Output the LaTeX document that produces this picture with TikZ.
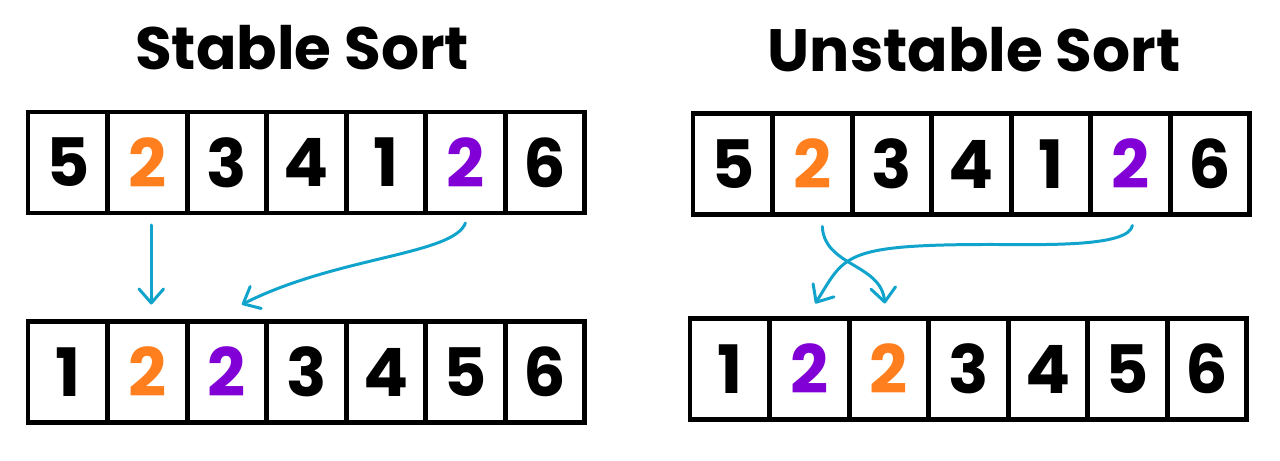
\documentclass[tikz,border=0pt]{standalone}
\usepackage{fontspec}
\setmainfont{Poppins}
\usepackage{tikz}
\usetikzlibrary{positioning,arrows.meta}
\definecolor{sortorange}{RGB}{255,127,30}
\definecolor{sortpurple}{RGB}{128,0,214}
\definecolor{arrowblue}{RGB}{16,163,204}
\tikzset{
  % Specifications for style of nodes:
  cell/.style = {
    rectangle,
    draw=black,
    line width=2.8pt,
    minimum width=1.591cm,
    minimum height=2.02cm,
    inner sep=0pt,
    outer sep=0pt,
    node distance=0cm,
    font=\fontsize{38}{40}\selectfont\bfseries,
    text centered
  },
  title/.style = {
    font=\fontsize{34}{40}\selectfont\bfseries
  },
  move/.style = {
    draw=arrowblue,
    line width=1.7pt,
    line cap=round,
    -{Straight Barb[length=8pt,width=14pt,line cap=round,round]}
  },
}
\begin{document}
\begin{tikzpicture}[x=0.02cm, y=-0.02cm]
    \useasboundingbox (0,0) rectangle (1280,460);
    % Titles
    \node[title] (stabletitle)   at (302,48) {Stable Sort};
    \node[title] (unstabletitle) at (974,50) {Unstable Sort};
    % Stable sort: input array
    \node[cell, anchor=west] (sin0) at (28,162.5)              {5};
    \node[cell, right=of sin0, text=sortorange] (sin1)         {2};
    \node[cell, right=of sin1] (sin2)                          {3};
    \node[cell, right=of sin2] (sin3)                          {4};
    \node[cell, right=of sin3] (sin4)                          {1};
    \node[cell, right=of sin4, text=sortpurple] (sin5)         {2};
    \node[cell, right=of sin5] (sin6)                          {6};
    % Stable sort: output array
    \node[cell, anchor=west] (sout0) at (28,372)               {1};
    \node[cell, right=of sout0, text=sortorange] (sout1)       {2};
    \node[cell, right=of sout1, text=sortpurple] (sout2)       {2};
    \node[cell, right=of sout2] (sout3)                        {3};
    \node[cell, right=of sout3] (sout4)                        {4};
    \node[cell, right=of sout4] (sout5)                        {5};
    \node[cell, right=of sout5] (sout6)                        {6};
    % Unstable sort: input array
    \node[cell, anchor=west] (uin0) at (693,164)               {5};
    \node[cell, right=of uin0, text=sortorange] (uin1)         {2};
    \node[cell, right=of uin1] (uin2)                          {3};
    \node[cell, right=of uin2] (uin3)                          {4};
    \node[cell, right=of uin3] (uin4)                          {1};
    \node[cell, right=of uin4, text=sortpurple] (uin5)         {2};
    \node[cell, right=of uin5] (uin6)                          {6};
    % Unstable sort: output array
    \node[cell, anchor=west] (uout0) at (690,369)              {1};
    \node[cell, right=of uout0, text=sortpurple] (uout1)       {2};
    \node[cell, right=of uout1, text=sortorange] (uout2)       {2};
    \node[cell, right=of uout2] (uout3)                        {3};
    \node[cell, right=of uout3] (uout4)                        {4};
    \node[cell, right=of uout4] (uout5)                        {5};
    \node[cell, right=of uout5] (uout6)                        {6};
    % Moves (offsets in pixels of the picture)
    \draw[move] ([xshift=0.08cm, yshift=-0.24cm]sin1.south)
      -- ([xshift=0.08cm, yshift=0.34cm]sout1.north);
    \draw[move] ([yshift=-0.2cm]sin5.south)
      .. controls +(-12,32) and +(95,-48) .. ([xshift=0.3cm, yshift=0.34cm]sout2.north);
    \draw[move] ([xshift=0.2cm, yshift=-0.24cm]uin1.south)
      .. controls +(2,40) and +(-4,-40) .. ([xshift=-0.08cm, yshift=0.3cm]uout2.north);
    \draw[move] ([xshift=0.04cm, yshift=-0.22cm]uin5.south)
      .. controls +(-4,22) and +(50,0) .. ([xshift=0.4cm, yshift=-0.6cm]uin3.south)
      .. controls +(-150,0) and +(30,-48) .. ([xshift=0.12cm, yshift=0.3cm]uout1.north);
\end{tikzpicture}
\end{document}
